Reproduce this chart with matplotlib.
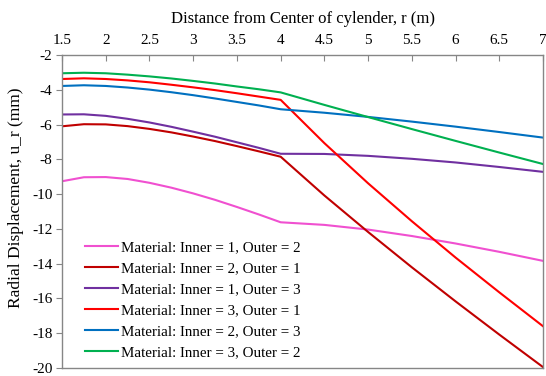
import matplotlib.pyplot as plt

# radios (m): passo 0.25 no cilindro interno, 0.5 no externo
r = [1.5, 1.75, 2.0, 2.25, 2.5, 2.75, 3.0, 3.25, 3.5, 3.75, 4.0,
     4.5, 5.0, 5.5, 6.0, 6.5, 7.0]

# deslocamento radial u_r (mm) para cada combinacao de materiais
u_in1_out2 = [-9.26, -9.03, -9.02, -9.13, -9.35, -9.63, -9.96, -10.33, -10.74, -11.17, -11.62,
              -11.77, -12.04, -12.41, -12.84, -13.32, -13.84]
u_in2_out1 = [-6.10, -5.98, -5.99, -6.09, -6.25, -6.45, -6.69, -6.95, -7.24, -7.54, -7.85,
              -10.08, -12.18, -14.21, -16.17, -18.08, -19.95]
u_in1_out3 = [-5.42, -5.41, -5.50, -5.67, -5.88, -6.13, -6.41, -6.70, -7.02, -7.34, -7.68,
              -7.69, -7.80, -7.97, -8.18, -8.44, -8.72]
u_in3_out1 = [-3.38, -3.34, -3.38, -3.46, -3.57, -3.71, -3.86, -4.02, -4.20, -4.39, -4.58,
              -7.07, -9.38, -11.56, -13.65, -15.65, -17.60]
u_in2_out3 = [-3.78, -3.74, -3.78, -3.87, -3.99, -4.14, -4.31, -4.50, -4.70, -4.90, -5.12,
              -5.32, -5.56, -5.83, -6.12, -6.43, -6.75]
u_in3_out2 = [-3.05, -3.02, -3.05, -3.13, -3.23, -3.35, -3.49, -3.64, -3.81, -3.97, -4.15,
              -4.87, -5.57, -6.26, -6.94, -7.61, -8.27]

series = [
    (u_in1_out2, "#F050D0", "Material: Inner = 1, Outer = 2"),
    (u_in2_out1, "#C00000", "Material: Inner = 2, Outer = 1"),
    (u_in1_out3, "#7030A0", "Material: Inner = 1, Outer = 3"),
    (u_in3_out1, "#FF0000", "Material: Inner = 3, Outer = 1"),
    (u_in2_out3, "#0070C0", "Material: Inner = 2, Outer = 3"),
    (u_in3_out2, "#00B050", "Material: Inner = 3, Outer = 2"),
]

xticks = [1.5, 2, 2.5, 3, 3.5, 4, 4.5, 5, 5.5, 6, 6.5, 7]
xticklabels = ["1.5", "2", "2.5", "3", "3.5", "4", "4.5", "5", "5.5", "6", "6.5", "7"]
yticks = list(range(-20, -1, 2))

plt.rcParams['font.family'] = ['Liberation Serif', 'DejaVu Serif']
plt.rcParams['axes.unicode_minus'] = False

fig = plt.figure(figsize=(5.46, 3.76), dpi=100)
ax = fig.add_axes([0.1136, 0.0213, 0.881, 0.8324])

for u, cor, nome in series:
    ax.plot(r, u, color=cor, lw=1.5, label=nome)

ax.set_xlim(1.5, 7)
ax.set_ylim(-20, -2)
ax.set_xticks(xticks)
ax.set_xticklabels(xticklabels)
ax.set_yticks(yticks)

# eixo x no topo, como no grafico original
ax.xaxis.tick_top()
ax.xaxis.set_label_position('top')
ax.tick_params(axis='x', direction='in', length=4, labelsize=11, pad=6, color='#868686')
ax.tick_params(axis='y', direction='out', length=4, labelsize=11, pad=3, color='#868686')
for s in ax.spines.values():
    s.set_color('#868686')
    s.set_linewidth(1.0)

ax.set_xlabel("Distance from Center of cylender, r (m)", fontsize=12, labelpad=8)
ax.set_ylabel("Radial Displacement, u_r (mm)", fontsize=12.5)
ax.yaxis.set_label_coords(-0.079, 0.545)

ax.legend(loc='lower left', bbox_to_anchor=(0.03, 0.0), frameon=False, fontsize=10.8,
          handlelength=2.2, handletextpad=0.2, labelspacing=0.5, borderaxespad=0.2)

plt.savefig("out.png", dpi=100)
